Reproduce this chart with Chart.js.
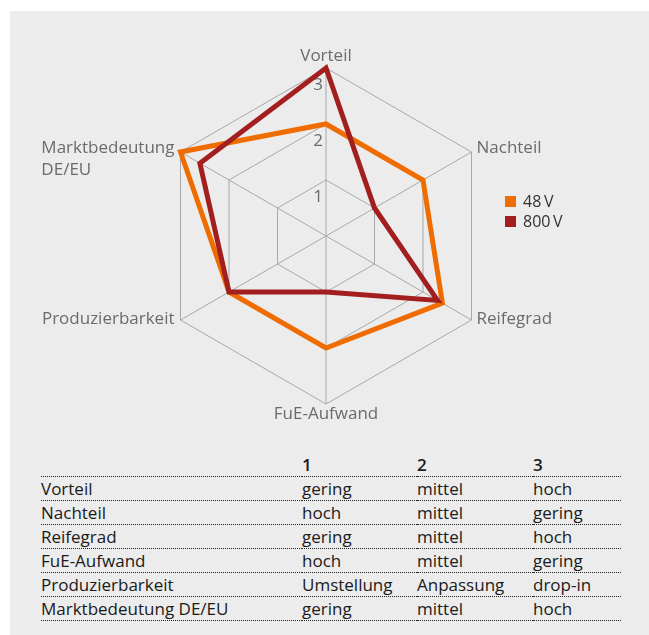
<!DOCTYPE html>
<html>
<head>
<meta charset="utf-8">
<script src="https://cdn.jsdelivr.net/npm/chart.js@4/dist/chart.umd.min.js"></script>
<style>
  body { margin: 0; background: #fff; font-family: "Open Sans", sans-serif; }
  #panel { position: absolute; left: 10px; top: 11px; width: 639px; height: 624px; background: #ececec; }
  #radar { position: absolute; left: 0; top: 0; }
  #scaleTable { position: absolute; left: 41px; top: 453px; width: 580px; border-collapse: collapse;
                font-size: 17px; color: #1a1a1a; }
  #scaleTable td { height: 23px; line-height: 23px; padding: 0; border-bottom: 1px dotted #222; white-space: nowrap; }
  #scaleTable tr.head td { font-weight: 600; }
</style>
</head>
<body>
<div id="panel"></div>
<canvas id="radar" width="649" height="440"></canvas>
<table id="scaleTable"></table>
<script>
const axes = ['Vorteil', 'Nachteil', 'Reifegrad', 'FuE-Aufwand', 'Produzierbarkeit', ['Marktbedeutung', 'DE/EU']];
const values48V = [2, 2, 2.4, 2, 2, 3];
const values800V = [3, 1, 2.3, 1, 2, 2.6];
const scaleSteps = ['1', '2', '3'];
const scaleRows = ['Vorteil', 'Nachteil', 'Reifegrad', 'FuE-Aufwand', 'Produzierbarkeit', 'Marktbedeutung DE/EU'];
const scaleWords = [
    ['gering', 'mittel', 'hoch'],
    ['hoch', 'mittel', 'gering'],
    ['gering', 'mittel', 'hoch'],
    ['hoch', 'mittel', 'gering'],
    ['Umstellung', 'Anpassung', 'drop-in'],
    ['gering', 'mittel', 'hoch']
];

const labelGrey = '#6b6b6b';

// axis names, ring numbers and the little legend are drawn by hand
const radarText = {
    id: 'radarText',
    beforeDatasetsDraw(chart) {
        const ctx = chart.ctx;
        const scale = chart.scales.r;
        ctx.save();
        ctx.fillStyle = labelGrey;

        ctx.font = '17px "Open Sans"';
        ctx.textAlign = 'right';
        ctx.textBaseline = 'middle';
        scale.ticks.forEach(t => {
            if (t.value <= 0) return;
            const d = scale.getDistanceFromCenterForValue(t.value);
            ctx.fillText(String(t.value), scale.xCenter - 3, scale.yCenter - d + 17);
        });

        chart.data.labels.forEach((label, i) => {
            const lines = Array.isArray(label) ? label : [label];
            const p = scale.getPointPosition(i, scale.drawingArea);
            const a = scale.getIndexAngle(i);
            const dx = Math.sin(a), dy = -Math.cos(a);
            let x, y;
            if (Math.abs(dx) < 0.1) {
                ctx.textAlign = 'center';
                x = p.x;
                y = p.y + (dy < 0 ? -12 : 10);
            } else {
                ctx.textAlign = 'left';
                const w = Math.max(...lines.map(l => ctx.measureText(l).width));
                x = dx > 0 ? p.x + 5 : p.x - 6 - w;
                y = p.y + (dy < 0 ? -3.5 : -0.5);
            }
            lines.forEach((l, k) => ctx.fillText(l, x, y + k * 22));
        });
        ctx.restore();
    },
    afterDraw(chart) {
        const ctx = chart.ctx;
        ctx.save();
        ctx.font = '16px "Open Sans"';
        ctx.textAlign = 'left';
        ctx.textBaseline = 'middle';
        chart.data.datasets.forEach((ds, i) => {
            const y = 196 + i * 20;
            ctx.fillStyle = ds.borderColor;
            ctx.fillRect(505, y, 11, 11);
            ctx.fillStyle = '#333';
            ctx.fillText(ds.label, 523, y + 6);
        });
        ctx.restore();
    }
};

const chart = new Chart(document.getElementById('radar'), {
    type: 'radar',
    data: {
        labels: axes,
        datasets: [
            {
                label: '48\u2009V',
                data: values48V,
                borderColor: '#ef6c00',
                borderWidth: 5,
                borderJoinStyle: 'miter',
                pointRadius: 0,
                fill: false,
                order: 1
            },
            {
                label: '800\u2009V',
                data: values800V,
                borderColor: '#a31f1f',
                borderWidth: 5,
                borderJoinStyle: 'miter',
                pointRadius: 0,
                fill: false,
                order: 0
            }
        ]
    },
    options: {
        responsive: false,
        animation: false,
        layout: { padding: { left: 158, right: 155, top: 68, bottom: 36 } },
        scales: {
            r: {
                min: 0,
                max: 3,
                ticks: { stepSize: 1, display: false },
                grid: { color: '#a8a8a8', lineWidth: 1 },
                angleLines: { color: '#a8a8a8', lineWidth: 1 },
                pointLabels: { display: false }
            }
        },
        plugins: {
            legend: { display: false },
            tooltip: { enabled: false }
        }
    },
    plugins: [radarText]
});

// scale explanation table below the chart
const table = document.getElementById('scaleTable');
const colWidths = ['261px', '115px', '116px', '88px'];
const head = table.insertRow();
head.className = 'head';
['', ...scaleSteps].forEach((txt, i) => {
    const td = head.insertCell();
    td.textContent = txt;
    td.style.width = colWidths[i];
});
scaleRows.forEach((name, r) => {
    const tr = table.insertRow();
    [name, ...scaleWords[r]].forEach(txt => {
        tr.insertCell().textContent = txt;
    });
});
</script>
</body>
</html>
